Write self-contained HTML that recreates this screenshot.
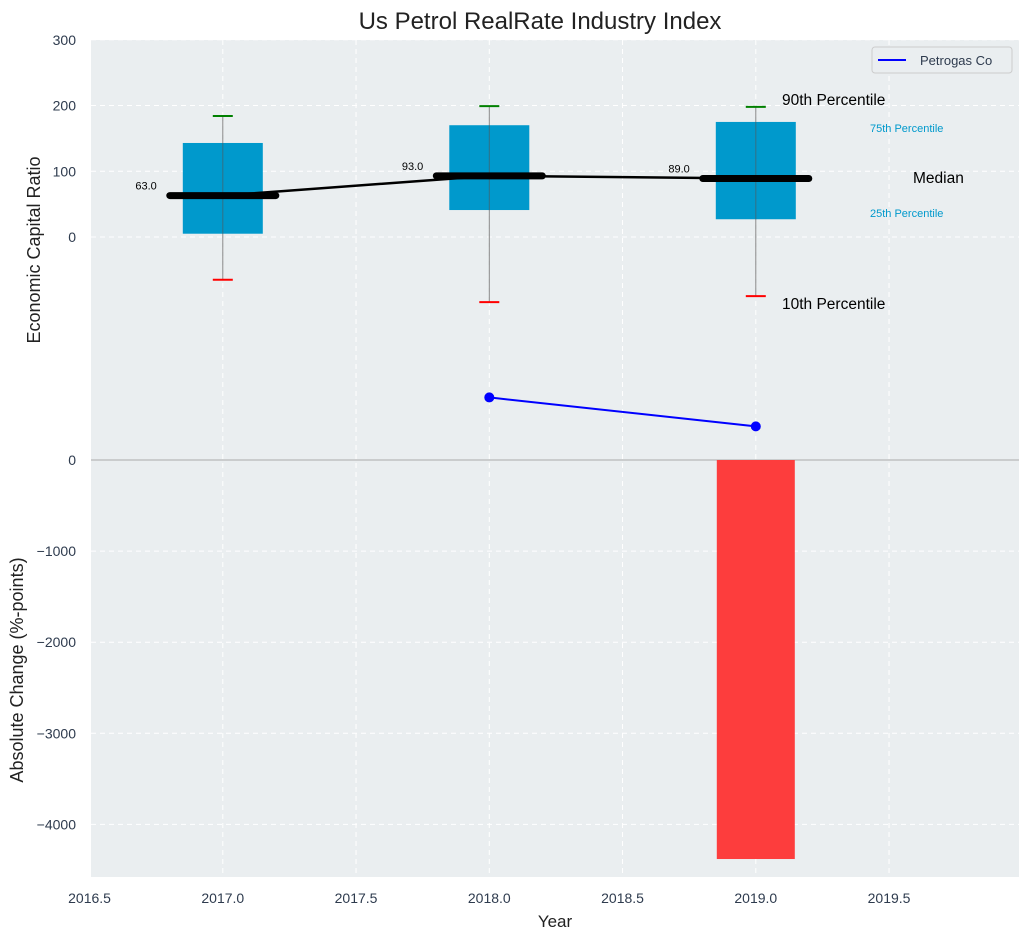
<!DOCTYPE html>
<html><head><meta charset="utf-8"><style>
body{margin:0;background:#fff;font-family:"Liberation Sans","DejaVu Sans",sans-serif}
svg text{font-family:"Liberation Sans","DejaVu Sans",sans-serif}
</style></head><body>
<svg id="c" width="1029" height="940"></svg>
<script>
const years=[2017,2018,2019];
const p10=[-65,-99,-90];
const p25=[5,41,27];
const med=[63,93,89];
const p75=[143,170,175];
const p90=[184,199,198];
const coYears=[2018,2019];
const coVals=[-244,-288];
const chgYears=[2019];
const chgVals=[-4380];
const topTicks=[0,100,200,300];
const botTicks=[0,-1000,-2000,-3000,-4000];
const xTicks=[2016.5,2017,2017.5,2018,2018.5,2019,2019.5];

const L=91,R=1019,T=40,B=877;
const X=v=>222.8+(v-2017)*266.5;
const Y1=v=>237-v*0.6575;
const Y2=v=>460-v*0.0911;
const svg=document.getElementById('c');
const NS='http://www.w3.org/2000/svg';
function el(tag,attrs,name,txt){const e=document.createElementNS(NS,tag);for(const k in attrs)e.setAttribute(k,attrs[k]);


if(txt!==undefined)e.textContent=txt;svg.appendChild(e);return e;}
el('rect',{x:L,y:T,width:R-L,height:B-T,fill:'#eaeef0'},'plot-background');
xTicks.forEach(t=>{el('line',{x1:X(t),x2:X(t),y1:T,y2:B,stroke:'#fff','stroke-dasharray':'5,4','stroke-width':1},'x-grid');
el('text',{x:X(t),y:903,'text-anchor':'middle','font-size':14,fill:'#2e3b4e'},'x-tick-label',t.toFixed(1));});
topTicks.forEach(t=>{el('line',{x1:L,x2:R,y1:Y1(t),y2:Y1(t),stroke:'#fff','stroke-dasharray':'5,4'},'y-grid-top');
el('text',{x:76,y:Y1(t)+5,'text-anchor':'end','font-size':14,fill:'#2e3b4e'},'y-tick-label-top',t);});
botTicks.forEach(t=>{el('line',{x1:L,x2:R,y1:Y2(t),y2:Y2(t),stroke:'#fff','stroke-dasharray':'5,4'},'y-grid-bottom');
el('text',{x:76,y:Y2(t)+5,'text-anchor':'end','font-size':14,fill:'#2e3b4e'},'y-tick-label-bottom',String(t).replace('-','−'));});
el('line',{x1:L,x2:R,y1:Y2(0),y2:Y2(0),stroke:'#aaa','stroke-width':1},'zero-line');
chgYears.forEach((y,i)=>{const y0=Y2(0),y1=Y2(chgVals[i]);el('rect',{x:X(y)-39,y:Math.min(y0,y1),width:78,height:Math.abs(y1-y0),fill:'#fd3d3d'},'change-bar');});
years.forEach((y,i)=>{const x=X(y);
el('line',{x1:x,x2:x,y1:Y1(p90[i]),y2:Y1(p10[i]),stroke:'#888','stroke-width':1},'whisker');
el('rect',{x:x-40,y:Y1(p75[i]),width:80,height:Y1(p25[i])-Y1(p75[i]),fill:'#0099cc'},'iqr-box');
el('line',{x1:x,x2:x,y1:Y1(p75[i]),y2:Y1(p25[i]),stroke:'#555','stroke-width':1,opacity:0.6},'whisker-inner');
el('line',{x1:x-10,x2:x+10,y1:Y1(p90[i]),y2:Y1(p90[i]),stroke:'green','stroke-width':2},'p90-cap');
el('line',{x1:x-10,x2:x+10,y1:Y1(p10[i]),y2:Y1(p10[i]),stroke:'red','stroke-width':2},'p10-cap');
});
el('polyline',{points:years.map((y,i)=>X(y)+','+Y1(med[i])).join(' '),fill:'none',stroke:'#000','stroke-width':2.5},'median-line');
years.forEach((y,i)=>{const x=X(y);
el('line',{x1:x-53,x2:x+53,y1:Y1(med[i]),y2:Y1(med[i]),stroke:'#000','stroke-width':7,'stroke-linecap':'round'},'median-marker');
el('text',{x:x-66,y:Y1(med[i])-6,'text-anchor':'end','font-size':11,fill:'#000'},'median-value',med[i].toFixed(1));});
el('polyline',{points:coYears.map((y,i)=>X(y)+','+Y1(coVals[i])).join(' '),fill:'none',stroke:'blue','stroke-width':2},'petrogas-line');
coYears.forEach((y,i)=>el('circle',{cx:X(y),cy:Y1(coVals[i]),r:5,fill:'blue'},'petrogas-point'));
el('text',{x:782,y:105,'font-size':15.5,fill:'#000'},'label-90th','90th Percentile');
el('text',{x:870,y:132,'font-size':11,fill:'#0099cc'},'label-75th','75th Percentile');
el('text',{x:913,y:183,'font-size':15.5,fill:'#000'},'label-median','Median');
el('text',{x:870,y:217,'font-size':11,fill:'#0099cc'},'label-25th','25th Percentile');
el('text',{x:782,y:309,'font-size':15.5,fill:'#000'},'label-10th','10th Percentile');
el('rect',{x:872,y:47,width:140,height:26,fill:'#eaeef0',stroke:'#ccc',rx:3},'legend');
el('line',{x1:878,x2:906,y1:60,y2:60,stroke:'blue','stroke-width':2},'legend-swatch');
el('text',{x:920,y:65,'font-size':13,fill:'#2e3b4e'},'legend-label','Petrogas Co');
el('text',{x:540,y:29,'text-anchor':'middle','font-size':24,fill:'#222'},'chart-title','Us Petrol RealRate Industry Index');
el('text',{x:555,y:927,'text-anchor':'middle','font-size':17,fill:'#222'},'x-axis-title','Year');
el('text',{x:0,y:0,transform:'translate(40,250) rotate(-90)','text-anchor':'middle','font-size':18,fill:'#222'},'y-axis-title-top','Economic Capital Ratio');
el('text',{x:0,y:0,transform:'translate(23,670) rotate(-90)','text-anchor':'middle','font-size':18,fill:'#222'},'y-axis-title-bottom','Absolute Change (%-points)');
</script></body></html>
